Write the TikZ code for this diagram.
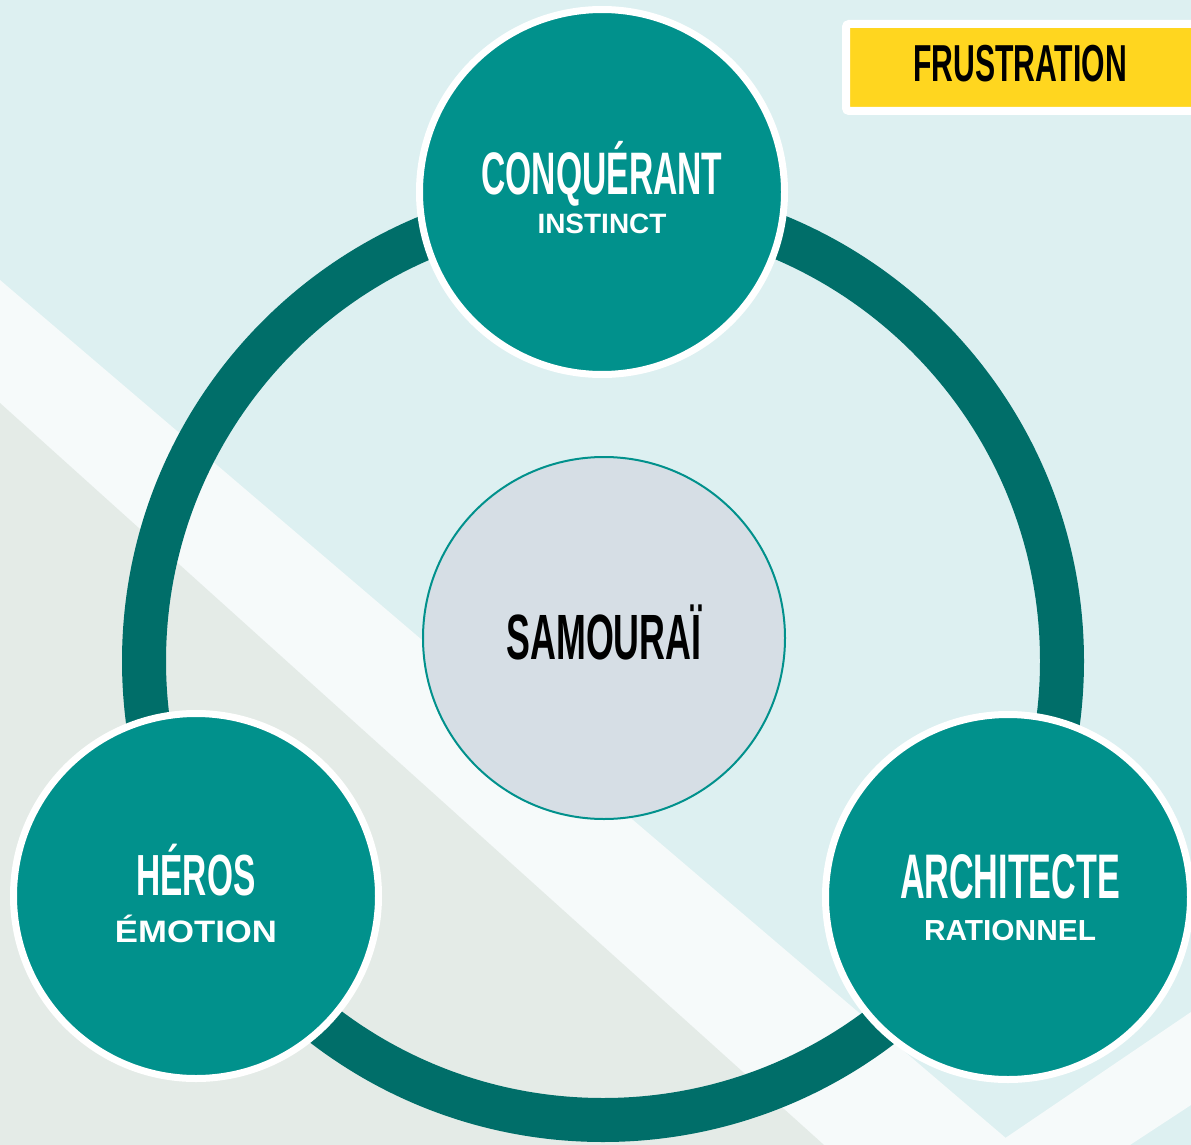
\documentclass[tikz,border=0pt]{standalone}
\usepackage{fontspec}
\setmainfont{Liberation Sans}
\usepackage{graphicx}

\definecolor{bgcyan}{HTML}{DDF0F1}
\definecolor{bandwhite}{HTML}{F6FAFA}
\definecolor{bggrey}{HTML}{E4EBE7}
\definecolor{ringteal}{HTML}{006E69}
\definecolor{roleteal}{HTML}{01918C}
\definecolor{coregrey}{HTML}{D6DEE5}
\definecolor{tagyellow}{HTML}{FFD61F}

% bold caps squeezed to a given width
\newcommand{\capword}[3]{\resizebox{#1}{\height}{\fontsize{#2}{#2}\selectfont\bfseries #3}}

\begin{document}
\begin{tikzpicture}[x=1pt,y=-1pt,
  role/.style={circle,fill=roleteal,draw=white,line width=7pt,minimum size=365pt,inner sep=0pt},
  core/.style={circle,fill=coregrey,draw=roleteal,line width=2pt,minimum size=362pt,inner sep=0pt},
  head/.style={anchor=base,text=white,inner sep=0pt},
  ]
\useasboundingbox (0,0) rectangle (1191,1145);

% Background
\fill[bgcyan] (0,0) rectangle (1191,1145);
\fill[bandwhite] (0,280) -- (1014,1145) -- (0,1145) -- cycle;
\fill[bggrey] (0,403) -- (824,1145) -- (0,1145) -- cycle;
\fill[bandwhite] (995,1145) -- (1191,1012) -- (1191,1105) -- (1130,1145) -- cycle;

% Ring
\draw[ringteal,line width=44pt] (603,661) circle[radius=459pt];

% Circles
\node[role] (conq) at (602,192) {};
\node[role] (heros) at (196,896) {};
\node[role] (archi) at (1008,897) {};
\node[core] (samou) at (604,638) {};

% Labels
\node[head] (conqH) at ([yshift=-2pt]conq.center) {\capword{241pt}{60}{CONQUÉRANT}};
\node[head] (conqS) at ([yshift=-41pt]conq.center) {\capword{129pt}{28}{INSTINCT}};
\node[head] (herosH) at ([yshift=1pt]heros.center) {\capword{119pt}{58}{HÉROS}};
\node[head] (herosS) at ([yshift=-46pt]heros.center) {\capword{162pt}{31}{ÉMOTION}};
\node[head] (archiH) at ([xshift=2pt,yshift=-1pt]archi.center) {\capword{220pt}{63}{ARCHITECTE}};
\node[head] (archiS) at ([xshift=2pt,yshift=-43pt]archi.center) {\capword{172pt}{29}{RATIONNEL}};
\node[head,text=black] (samouH) at ([yshift=-21pt]samou.center) {\capword{195pt}{64}{SAMOURAÏ}};

% Tag
\filldraw[fill=tagyellow,draw=white,line width=8pt,rounded corners=3pt] (846,24) rectangle (1200,111);
\node[head,text=black] (frus) at (1020,82) {\capword{214pt}{52}{FRUSTRATION}};
\end{tikzpicture}
\end{document}
